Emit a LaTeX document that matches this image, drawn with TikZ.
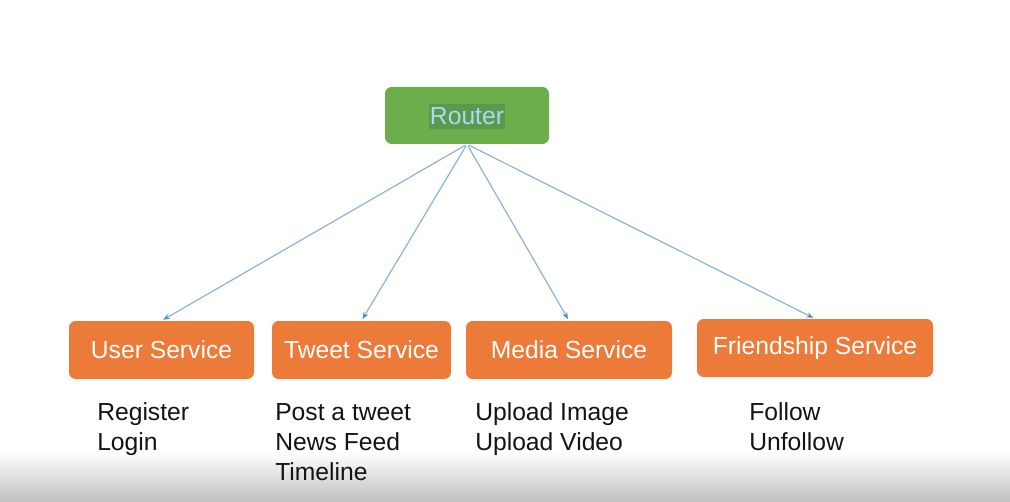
\documentclass[tikz,border=0pt]{standalone}
\usepackage{fontspec}
\setmainfont{Liberation Sans}
\usetikzlibrary{arrows.meta}
\definecolor{routergreen}{HTML}{6DAD4B}
\definecolor{selgreen}{HTML}{5A9A4E}
\definecolor{seltext}{HTML}{B2D6EE}
\definecolor{svcorange}{HTML}{EC7B3A}
\definecolor{linkblue}{HTML}{8DB3DA}
\definecolor{tipblue}{HTML}{4F89C6}
\begin{document}
\begin{tikzpicture}[x=0.75pt,y=-0.75pt,
  lbl/.style={font=\fontsize{18.5}{22}\selectfont},
  svc/.style={lbl, fill=svcorange, text=white, rounded corners=5pt,
    minimum height=43.5pt, inner sep=0pt},
  item/.style={lbl, anchor=base west, inner sep=0pt, text=black!92},
  link/.style={draw=linkblue, line width=0.9pt,
    -{Stealth[length=5pt,width=4pt,color=tipblue,fill=tipblue]},
    shorten <=1.5pt, shorten >=1.5pt}]
  % canvas and the grey fade along the lower edge
  \fill[white] (0,0) rectangle (1010,502);
  \shade[top color=white, bottom color=black!25] (0,452) rectangle (1010,502);

  % router
  \node[fill=routergreen, rounded corners=5pt, minimum width=123pt,
        minimum height=42.75pt, inner sep=0pt] (router) at (467,115.5) {};
  \node[lbl, fill=selgreen, text=seltext, inner xsep=0.5pt, inner ysep=2.6pt]
        (routerlbl) at (467,116.5) {Router};

  % services
  \node[svc, minimum width=138.75pt] (user)   at (161.5,350) {User Service};
  \node[svc, minimum width=134.25pt] (tweet)  at (361.5,350) {Tweet Service};
  \node[svc, minimum width=154.5pt]  (media)  at (569,350)   {Media Service};
  \node[svc, minimum width=177pt]    (friend) at (815,348)   {Friendship Service};

  % connectors
  \draw[link] (router.south) -- (user.north);
  \draw[link] (router.south) -- (tweet.north);
  \draw[link] (router.south) -- (media.north);
  \draw[link] (router.south) -- (friend.north);

  % operations of each service
  \node[item] (register) at (97,420) {Register};
  \node[item] (login)    at (97,450) {Login};
  \node[item] (post)     at (275,420) {Post a tweet};
  \node[item] (feed)     at (275,450) {News Feed};
  \node[item] (timeline) at (275,480) {Timeline};
  \node[item] (upimg)    at (475,420) {Upload Image};
  \node[item] (upvid)    at (475,450) {Upload Video};
  \node[item] (follow)   at (749,420) {Follow};
  \node[item] (unfollow) at (749,450) {Unfollow};
\end{tikzpicture}
\end{document}
